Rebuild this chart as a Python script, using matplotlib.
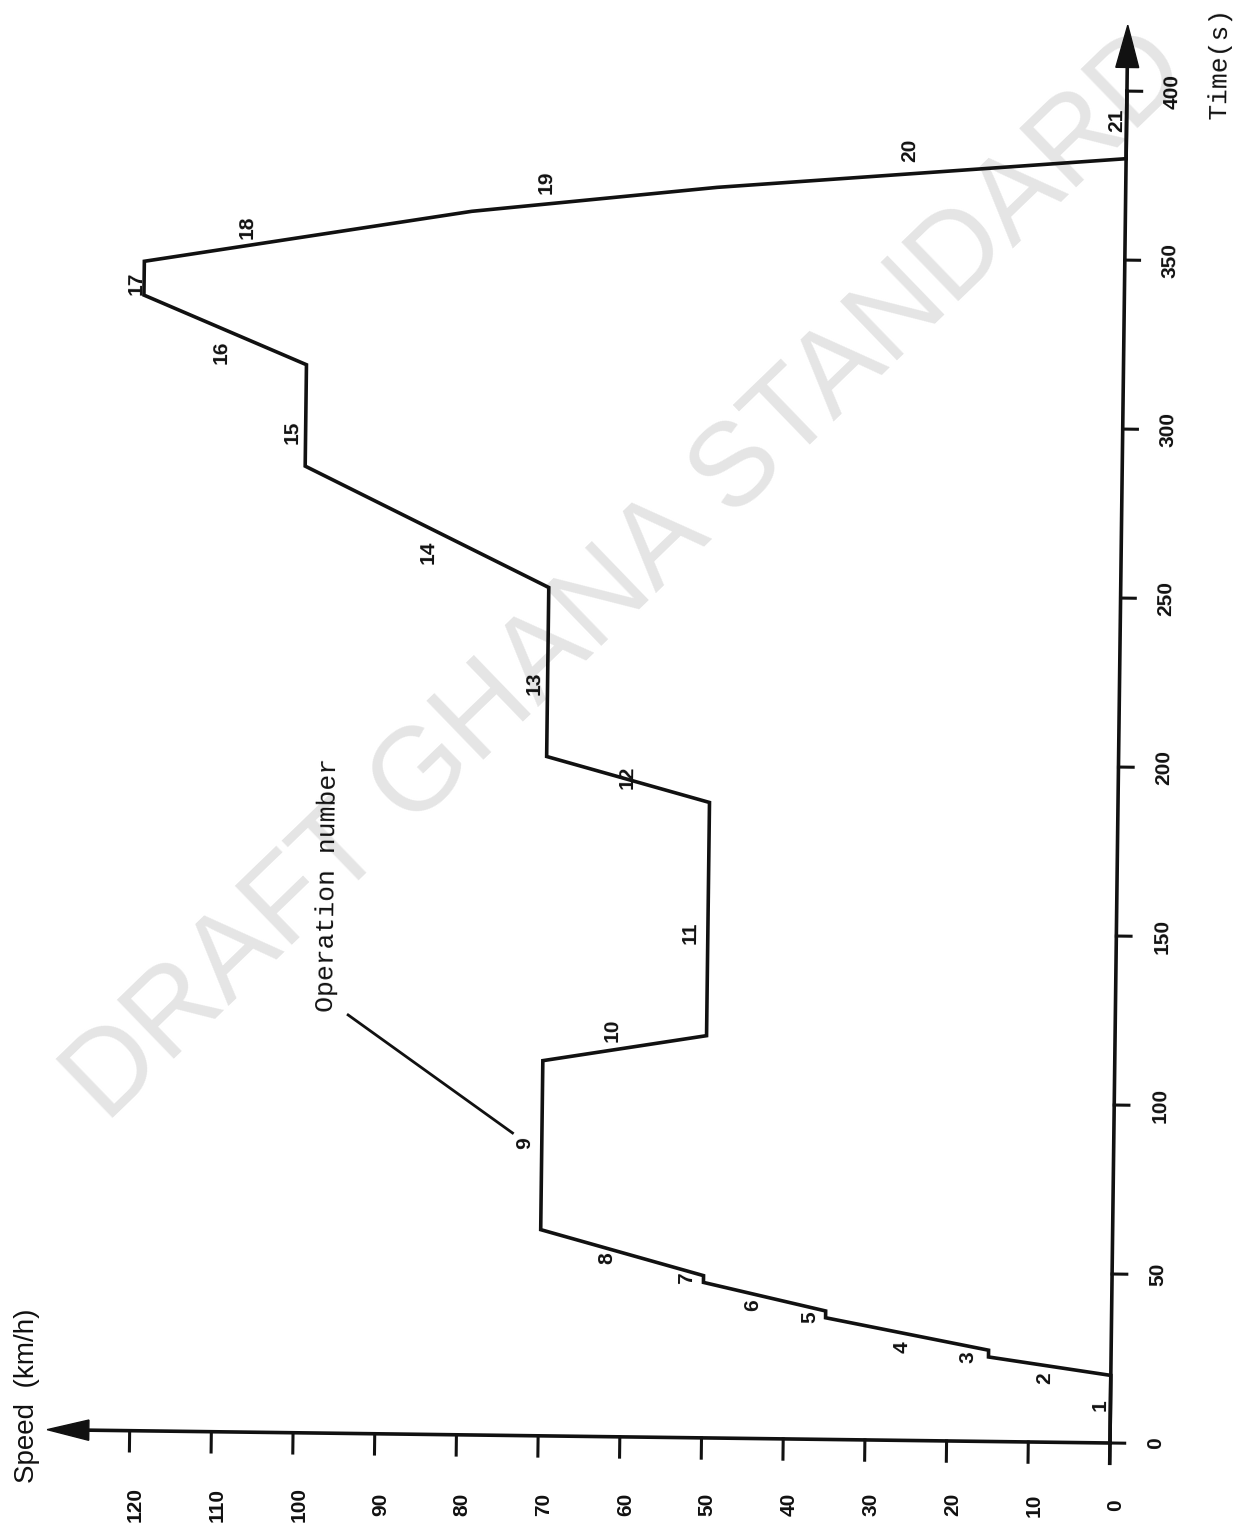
import matplotlib
matplotlib.use("Agg")
import matplotlib.pyplot as plt
from matplotlib.transforms import Affine2D
from matplotlib.patches import Polygon

# Extra-urban driving cycle: cumulative time (s) and vehicle speed (km/h)
time_s = [0, 20, 25, 27, 36, 38, 46, 48, 61, 111, 119, 188, 201, 251,
          286, 316, 336, 346, 362, 370, 380, 400]
speed_kmh = [0, 0, 15, 15, 35, 35, 50, 50, 70, 70, 50, 50, 70, 70,
             100, 100, 120, 120, 80, 50, 0, 0]

speed_ticks = [0, 10, 20, 30, 40, 50, 60, 70, 80, 90, 100, 110, 120]
time_ticks = [0, 50, 100, 150, 200, 250, 300, 350, 400]

operation_numbers = [str(n) for n in range(1, 22)]

# Where each operation number is written (speed, time)
op_label_pos = [
    (1.3, 11.2), (8.1, 19.0), (17.5, 24.9), (25.6, 27.6), (36.9, 36.2),
    (43.9, 39.5), (52.0, 47.2), (61.8, 52.9), (72.1, 86.6), (61.6, 120.3),
    (52.2, 149.3), (60.1, 195.2), (71.6, 222.7), (84.8, 261.1),
    (101.6, 296.1), (110.4, 319.5), (120.9, 339.6), (107.4, 356.6),
    (70.9, 371.0), (26.5, 381.8), (1.2, 391.4),
]

W, H, DPI = 1246, 1537, 100
fig = plt.figure(figsize=(W / DPI, H / DPI), dpi=DPI)
fig.patch.set_facecolor("white")
ax = fig.add_axes([0, 0, 1, 1])
ax.axis("off")
# speed runs right-to-left, time runs bottom-to-top
ax.set_xlim(135.86, -16.65)
ax.set_ylim(-27.81, 426.92)

# the whole drawing sits slightly turned on the page
SKEW = -0.72
tr = ax.transData + Affine2D().rotate_deg_around(1110, 94, SKEW)
txt_rot = 90 + SKEW

INK = "#111111"
num_font = dict(family=["Liberation Sans", "DejaVu Sans"],
                fontweight="bold", fontsize=15, color=INK)
mono = ["Liberation Mono", "DejaVu Sans Mono"]

# watermark
ax.text(628 / W, 1 - 578 / H, "DRAFT GHANA STANDARD", transform=fig.transFigure,
        rotation=44, rotation_mode="anchor", ha="center", va="center",
        fontsize=85, color="#e5e5e5", family="Liberation Sans", zorder=0)

# speed trace
ax.plot(speed_kmh, time_s, color=INK, lw=2.6, transform=tr, clip_on=False,
        solid_joinstyle="miter", zorder=3)

# time axis with arrow
ax.plot([0, 0], [-6, 408], color=INK, lw=2.6, transform=tr, clip_on=False, zorder=3)
ax.add_patch(Polygon([(1.4, 407), (0, 419.5), (-1.4, 407)], closed=True,
                     fc=INK, ec=INK, transform=tr, clip_on=False, zorder=3))
# speed axis with arrow
ax.plot([0, 126], [0, 0], color=INK, lw=2.6, transform=tr, clip_on=False, zorder=3)
ax.add_patch(Polygon([(125.0, 3.0), (130.1, 0), (125.0, -3.0)], closed=True,
                     fc=INK, ec=INK, transform=tr, clip_on=False, zorder=3))

for v in speed_ticks:
    ax.plot([v, v], [0, -6], color=INK, lw=2.2, transform=tr, clip_on=False, zorder=3)
    ax.text(v - 0.7, -18.3, str(v), rotation=90, rotation_mode="anchor",
            ha="center", va="center", transform=ax.transData, **num_font)

for t in time_ticks:
    ax.plot([0, -1.8], [t, t], color=INK, lw=2.2, transform=tr, clip_on=False, zorder=3)
    ax.text(-5.6, t, str(t), rotation=txt_rot, rotation_mode="anchor",
            ha="center", va="center", transform=tr, **num_font)

for lab, (v, t) in zip(operation_numbers, op_label_pos):
    ax.text(v, t, lab, rotation=txt_rot, rotation_mode="anchor",
            ha="center", va="center", transform=tr, **num_font)

# callout for the operation numbers
ax.plot([93.9, 73.6], [123.8, 89.5], color=INK, lw=2.0, transform=tr,
        clip_on=False, zorder=3)
ax.text(96.6, 162.2, "Operation number", rotation=txt_rot, rotation_mode="anchor",
        ha="center", va="center", transform=tr, fontsize=19,
        family=mono, color=INK)

ax.text(-11.35, 408.7, "Time(s)", rotation=txt_rot, rotation_mode="anchor",
        ha="center", va="center", transform=tr, fontsize=19,
        family=mono, color=INK)
ax.text(132.6, 13.9, "Speed  (km/h)", rotation=90, rotation_mode="anchor",
        ha="center", va="center", transform=ax.transData, fontsize=20,
        family=["Liberation Sans", "DejaVu Sans"], color=INK)

fig.savefig("out.png", dpi=DPI, facecolor="white")
